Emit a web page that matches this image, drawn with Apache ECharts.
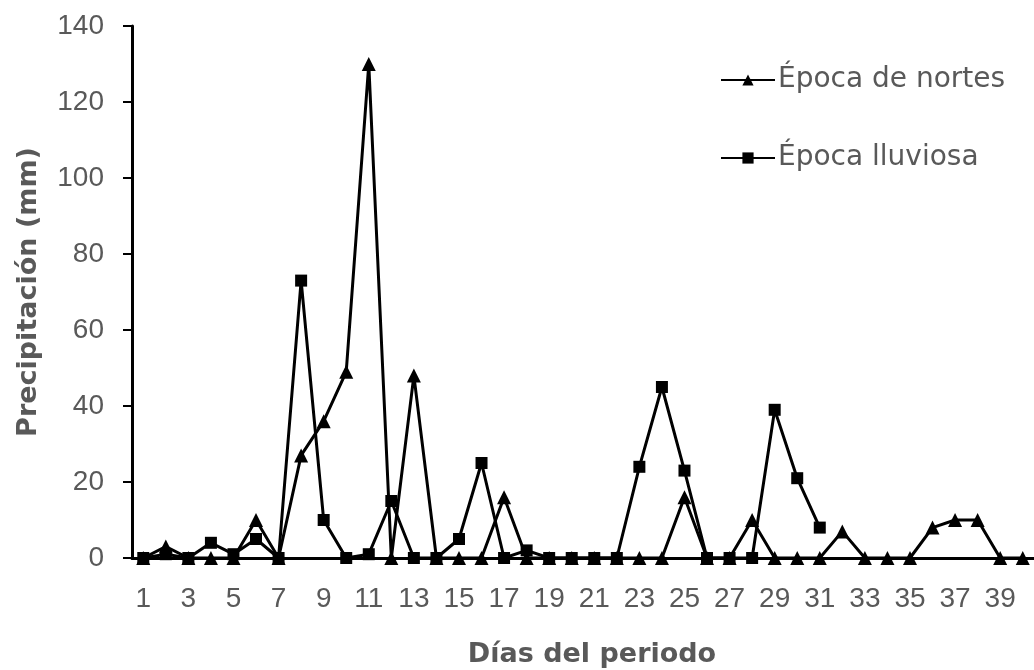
<!DOCTYPE html>
<html>
<head>
<meta charset="utf-8">
<script src="https://cdn.jsdelivr.net/npm/echarts@6/dist/echarts.min.js"></script>
<style>
html,body{margin:0;padding:0;background:#fff;}
#chart{width:1034px;height:670px;}
</style>
</head>
<body>
<div id="chart"></div>
<script>
const days = Array.from({length: 40}, (_, i) => String(i + 1));
const yTicks = [0, 20, 40, 60, 80, 100, 120, 140];
const nortes = [0,3,0,0,0,10,0,27,36,49,130,0,48,0,0,0,16,0,0,0,0,0,0,0,16,0,0,10,0,0,0,7,0,0,0,8,10,10,0,0];
const lluviosa = [0,1,0,4,1,5,0,73,10,0,1,15,0,0,5,25,0,2,0,0,0,0,24,45,23,0,0,0,39,21,8];
const seriesNames = ['Época de nortes', 'Época lluviosa'];

const FONT = '"Liberation Sans", Arial, sans-serif';
const WIDE = '"DejaVu Sans", sans-serif';
const GRAY = '#595959';

const chart = echarts.init(document.getElementById('chart'));
chart.setOption({
  animation: false,
  backgroundColor: '#fff',
  grid: {left: 132, right: 0, top: 26, bottom: 112, containLabel: false, outerBoundsMode: 'none'},
  legend: {
    orient: 'vertical',
    left: 715,
    top: 61,
    itemWidth: 54,
    itemHeight: 14,
    itemGap: 50,
    data: seriesNames,
    textStyle: {fontFamily: WIDE, fontSize: 28, color: GRAY, padding: [0,0,0,-2]}
  },
  xAxis: {
    type: 'category',
    data: days,
    boundaryGap: true,
    name: 'Días del periodo',
    nameLocation: 'middle',
    nameGap: 83,
    nameTextStyle: {fontFamily: WIDE, fontSize: 27, fontWeight: 'bold', color: GRAY, padding: [0,0,0,18]},
    axisLine: {show: true, lineStyle: {color: '#000', width: 3}},
    axisTick: {show: false},
    axisLabel: {interval: 1, fontFamily: FONT, fontSize: 28, color: GRAY, margin: 27}
  },
  yAxis: {
    type: 'value',
    min: yTicks[0],
    max: yTicks[yTicks.length - 1],
    interval: 20,
    name: 'Precipitación (mm)',
    nameLocation: 'middle',
    nameGap: 90,
    nameRotate: 90,
    nameTextStyle: {fontFamily: WIDE, fontSize: 27, fontWeight: 'bold', color: GRAY},
    splitLine: {show: false},
    axisLine: {show: true, lineStyle: {color: '#000', width: 3}},
    axisTick: {show: true, inside: false, length: 9, lineStyle: {color: '#000', width: 2}},
    axisLabel: {fontFamily: FONT, fontSize: 28, color: GRAY, margin: 28}
  },
  series: [
    {
      name: seriesNames[0],
      type: 'line',
      data: nortes,
      symbol: 'triangle',
      symbolSize: 14,
      showAllSymbol: true,
      lineStyle: {color: '#000', width: 3},
      itemStyle: {color: '#000'},
      z: 2
    },
    {
      name: seriesNames[1],
      type: 'line',
      data: lluviosa,
      symbol: 'rect',
      symbolSize: 12,
      showAllSymbol: true,
      lineStyle: {color: '#000', width: 3},
      itemStyle: {color: '#000'},
      z: 3
    }
  ]
});
</script>
</body>
</html>
